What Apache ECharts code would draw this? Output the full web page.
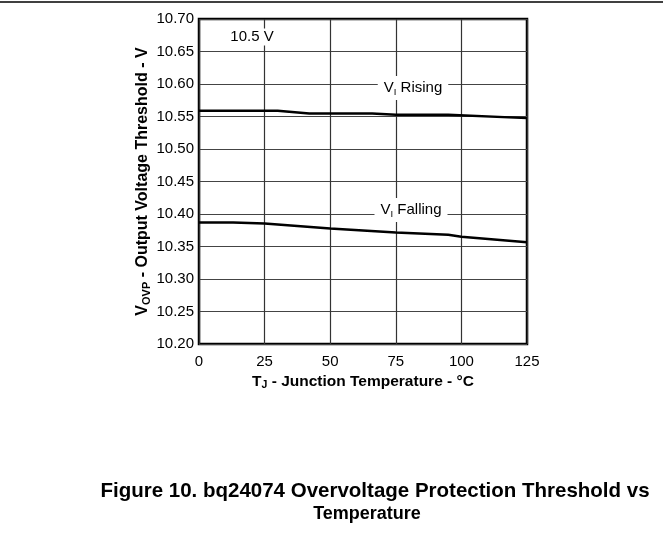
<!DOCTYPE html>
<html>
<head>
<meta charset="utf-8">
<script src="https://cdn.jsdelivr.net/npm/echarts@6/dist/echarts.min.js"></script>
<style>
html,body{margin:0;padding:0;background:#fff;}
#c{width:663px;height:535px;}
</style>
</head>
<body>
<div id="c"></div>
<script>
const xTicks = [0, 25, 50, 75, 100, 125];
const yTicks = ['10.20','10.25','10.30','10.35','10.40','10.45','10.50','10.55','10.60','10.65','10.70'];
const risingT = [0, 30, 42, 66, 75, 95, 125];
const risingV = [10.559, 10.559, 10.5547, 10.5547, 10.5527, 10.5527, 10.5475];
const fallingT = [0, 13, 25, 50, 75, 95, 100, 125];
const fallingV = [10.387, 10.387, 10.3855, 10.3776, 10.3716, 10.368, 10.365, 10.3566];
const titleLine1 = 'Figure 10. bq24074 Overvoltage Protection Threshold vs';
const titleLine2 = 'Temperature';

const FONT = 'Liberation Sans, Arial, sans-serif';
const chart = echarts.init(document.getElementById('c'));
const gridL = 199, gridT = 19, gridR = 527, gridB = 344;

chart.setOption({
  animation: false,
  backgroundColor: '#fff',
  grid: {left: gridL, top: gridT, width: gridR - gridL, height: gridB - gridT,
         show: true, borderColor: '#000', borderWidth: 2.5, backgroundColor: 'transparent'},
  xAxis: {
    type: 'value', min: 0, max: 125, interval: 25,
    axisLine: {show: false}, axisTick: {show: false},
    splitLine: {show: true, lineStyle: {color: '#333', width: 1.2}},
    axisLabel: {color: '#000', fontSize: 15, fontFamily: FONT, margin: 10,
      formatter: v => xTicks.includes(v) ? String(v) : ''},
    name: '{b|T}{s|J}{b| - Junction Temperature - °C}',
    nameLocation: 'middle', nameGap: 20,
    nameTextStyle: {rich: {
      b: {fontSize: 15.5, fontWeight: 'bold', color: '#000', fontFamily: FONT},
      s: {fontSize: 10.5, fontWeight: 'bold', color: '#000', fontFamily: FONT, verticalAlign: 'bottom', padding: [7,0,0,0]}
    }}
  },
  yAxis: {
    type: 'value', min: 10.20, max: 10.70, interval: 0.05,
    axisLine: {show: false}, axisTick: {show: false},
    splitLine: {show: true, lineStyle: {color: '#444', width: 1.2}},
    axisLabel: {color: '#000', fontSize: 15, fontFamily: FONT, margin: 5,
      formatter: v => {
        const s = v.toFixed(2);
        return yTicks.includes(s) ? s : '';
      }},
    name: '{b|V}{s|OVP}{b| - Output Voltage Threshold - V}',
    nameLocation: 'middle', nameGap: 47,
    nameTextStyle: {rich: {
      b: {fontSize: 16, fontWeight: 'bold', color: '#000', fontFamily: FONT},
      s: {fontSize: 11, fontWeight: 'bold', color: '#000', fontFamily: FONT, verticalAlign: 'bottom', padding: [7,0,0,0]}
    }}
  },
  series: [
    {type: 'line', name: 'VI Rising', data: risingT.map((t, i) => [t, risingV[i]]),
     symbol: 'none', lineStyle: {color: '#000', width: 2.5}, z: 5},
    {type: 'line', name: 'VI Falling', data: fallingT.map((t, i) => [t, fallingV[i]]),
     symbol: 'none', lineStyle: {color: '#000', width: 2.5}, z: 5}
  ],
  graphic: [
    {type: 'line', shape: {x1: 0, y1: 2, x2: 663, y2: 2}, style: {stroke: '#000', lineWidth: 1.5}},
    {type: 'text', x: 252, y: 37, z: 10,
     style: {text: '10.5 V', fontSize: 15, fontFamily: FONT, fill: '#000', align: 'center', verticalAlign: 'middle',
       backgroundColor: '#fff', padding: [1, 2]}},
    {type: 'text', x: 413, y: 88, z: 10,
     style: {text: '{n|V}{s|I}{n| Rising}', align: 'center', verticalAlign: 'middle',
       backgroundColor: '#fff', padding: [3, 6, 3, 6],
       rich: {n: {fontSize: 15, fontFamily: FONT, fill: '#000'},
              s: {fontSize: 9.5, fontFamily: FONT, fill: '#000', verticalAlign: 'bottom', padding: [8,0,0,0]}}}},
    {type: 'text', x: 411, y: 210, z: 10,
     style: {text: '{n|V}{s|I}{n| Falling}', align: 'center', verticalAlign: 'middle',
       backgroundColor: '#fff', padding: [3, 6, 3, 6],
       rich: {n: {fontSize: 15, fontFamily: FONT, fill: '#000'},
              s: {fontSize: 9.5, fontFamily: FONT, fill: '#000', verticalAlign: 'bottom', padding: [8,0,0,0]}}}},
    {type: 'text', x: 375, y: 491, z: 10,
     style: {text: titleLine1, align: 'center', verticalAlign: 'middle',
       fontSize: 20.5, fontWeight: 'bold', fontFamily: FONT, fill: '#000'}},
    {type: 'text', x: 367, y: 514, z: 10,
     style: {text: titleLine2, align: 'center', verticalAlign: 'middle',
       fontSize: 18, fontWeight: 'bold', fontFamily: FONT, fill: '#000'}}
  ]
});
</script>
</body>
</html>
